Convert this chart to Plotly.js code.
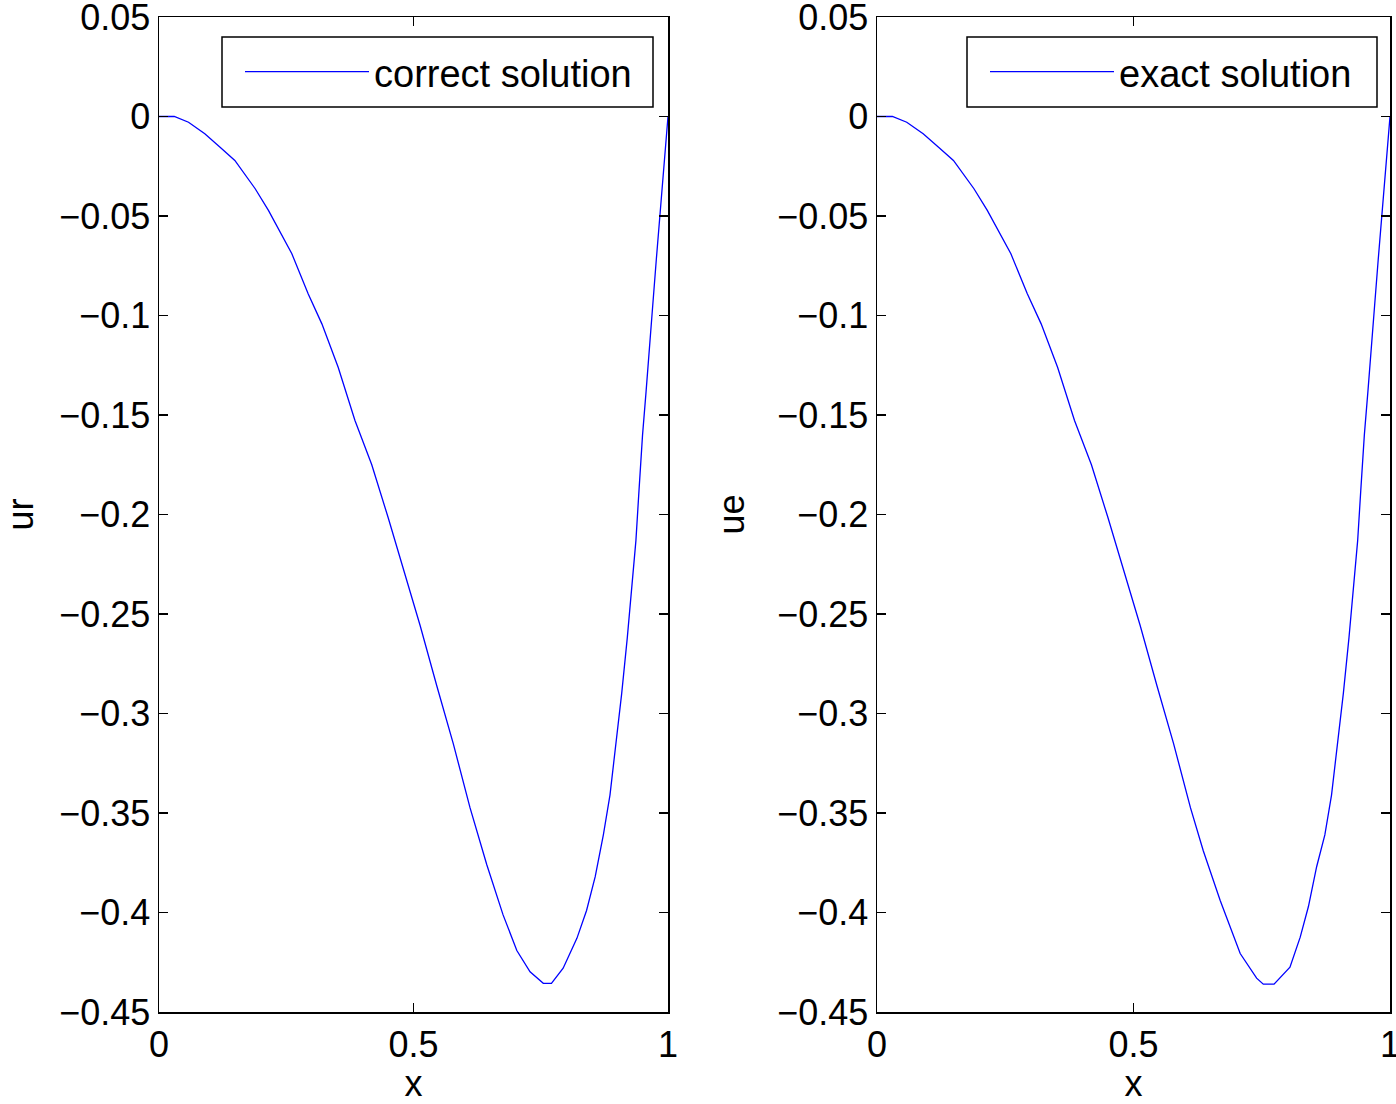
<!DOCTYPE html>
<html>
<head>
<meta charset="utf-8">
<script src="https://cdn.plot.ly/plotly-3.0.1.min.js"></script>
<style>html,body{margin:0;padding:0;background:#fff;}#plot{width:1396px;height:1104px;}</style>
</head>
<body>
<div id="plot"></div>
<script>
const xR = [0, 0.03, 0.058, 0.09, 0.12, 0.149, 0.189, 0.215, 0.261, 0.293, 0.32, 0.352, 0.385, 0.418, 0.45, 0.48, 0.513, 0.546, 0.578, 0.611, 0.644, 0.676, 0.703, 0.729, 0.755, 0.771, 0.794, 0.821, 0.84, 0.857, 0.873, 0.886, 0.899, 0.909, 0.92, 0.929, 0.937, 0.943, 0.95, 0.957, 0.964, 0.97, 0.977, 0.985, 0.993, 1.0];
const ur = [0, 0, -0.0029, -0.0087, -0.0154, -0.0221, -0.0363, -0.0472, -0.069, -0.0891, -0.1042, -0.126, -0.1528, -0.175, -0.2014, -0.2271, -0.2558, -0.2863, -0.315, -0.3473, -0.376, -0.4012, -0.4191, -0.4298, -0.4356, -0.4356, -0.428, -0.413, -0.399, -0.382, -0.361, -0.341, -0.312, -0.29, -0.262, -0.238, -0.213, -0.188, -0.16, -0.138, -0.117, -0.095, -0.072, -0.048, -0.02, 0];
const xE = [0, 0.03, 0.058, 0.09, 0.12, 0.149, 0.189, 0.215, 0.261, 0.293, 0.32, 0.352, 0.385, 0.418, 0.45, 0.48, 0.513, 0.546, 0.578, 0.611, 0.636, 0.669, 0.708, 0.74, 0.753, 0.774, 0.805, 0.825, 0.841, 0.857, 0.873, 0.886, 0.899, 0.909, 0.92, 0.929, 0.937, 0.943, 0.95, 0.957, 0.964, 0.97, 0.977, 0.985, 0.993, 1.0];
const ue = [0, 0, -0.0029, -0.0087, -0.0154, -0.0221, -0.0363, -0.0472, -0.069, -0.0891, -0.1042, -0.126, -0.1528, -0.175, -0.2014, -0.2271, -0.2558, -0.2863, -0.315, -0.3473, -0.369, -0.394, -0.4206, -0.433, -0.436, -0.436, -0.4275, -0.4124, -0.397, -0.377, -0.361, -0.341, -0.312, -0.29, -0.262, -0.238, -0.213, -0.188, -0.16, -0.138, -0.117, -0.095, -0.072, -0.048, -0.02, 0];
const yTicks = [0.05, 0, -0.05, -0.1, -0.15, -0.2, -0.25, -0.3, -0.35, -0.4, -0.45];
const yTickText = ['0.05', '0', '\u22120.05', '\u22120.1', '\u22120.15', '\u22120.2', '\u22120.25', '\u22120.3', '\u22120.35', '\u22120.4', '\u22120.45'];
const xTicks = [0, 0.5, 1];
const xTickText = ['0', '0.5', '1'];

const FONT = 'Liberation Sans, Arial, Helvetica, sans-serif';
const fs = 36;

const traces = [
  {x: xR, y: ur, type: 'scatter', mode: 'lines', name: 'correct solution',
   line: {color: '#0000ff', width: 1.3}, xaxis: 'x', yaxis: 'y', legend: 'legend'},
  {x: xE, y: ue, type: 'scatter', mode: 'lines', name: 'exact solution',
   line: {color: '#0000ff', width: 1.3}, xaxis: 'x2', yaxis: 'y2', legend: 'legend2'}
];

function xax(dom, anchor) {
  return {domain: dom, anchor: anchor, range: [-0.0000001, 1.0000001], tickvals: xTicks, ticktext: xTickText,
    ticks: 'inside', ticklen: 9, tickwidth: 1.3, tickcolor: '#000', mirror: 'ticks',
    showline: true, linecolor: '#000', linewidth: 1.5, showgrid: false, zeroline: false,
    ticklabeloverflow: 'allow',
    tickfont: {family: FONT, size: fs, color: '#000'},
    title: {text: 'x', font: {family: FONT, size: fs, color: '#000'}, standoff: 31}, automargin: false};
}
function yax(dom, anchor, label, so) {
  return {domain: dom, anchor: anchor, range: [-0.4500001, 0.0500001], tickvals: yTicks, ticktext: yTickText,
    ticks: 'inside', ticklen: 9, tickwidth: 1.3, tickcolor: '#000', mirror: 'ticks',
    showline: true, linecolor: '#000', linewidth: 1.5, showgrid: false, zeroline: false,
    ticklabeloverflow: 'allow',
    tickfont: {family: FONT, size: fs, color: '#000'},
    title: {text: label, font: {family: FONT, size: fs, color: '#000'}, standoff: so}, automargin: false};
}
const yd = [(1104 - 1012) / 1104, (1104 - 17) / 1104];
const legendFont = {family: FONT, size: 38, color: '#000'};
const layout = {
  width: 1396, height: 1104,
  margin: {l: 0, r: 0, t: 0, b: 0},
  paper_bgcolor: '#fff', plot_bgcolor: '#fff',
  showlegend: true,
  xaxis: xax([159 / 1396, 668 / 1396], 'y'),
  yaxis: yax(yd, 'x', 'ur', 40),
  xaxis2: xax([877 / 1396, 1390 / 1396], 'y2'),
  yaxis2: yax(yd, 'x2', 'ue', 21),
  legend: {x: 240 / 1396, y: (1104 - 72) / 1104, xanchor: 'left', yanchor: 'middle',
    borderwidth: 0, bgcolor: 'rgba(0,0,0,0)', itemwidth: 124, font: legendFont},
  legend2: {x: 985 / 1396, y: (1104 - 72) / 1104, xanchor: 'left', yanchor: 'middle',
    borderwidth: 0, bgcolor: 'rgba(0,0,0,0)', itemwidth: 124, font: legendFont},
  shapes: [
    {type: 'rect', xref: 'paper', yref: 'paper', x0: 222 / 1396, x1: 653 / 1396,
     y0: (1104 - 107) / 1104, y1: (1104 - 37) / 1104, line: {color: '#000', width: 1.5}, fillcolor: '#fff', layer: 'above'},
    {type: 'rect', xref: 'paper', yref: 'paper', x0: 967 / 1396, x1: 1377 / 1396,
     y0: (1104 - 107) / 1104, y1: (1104 - 37) / 1104, line: {color: '#000', width: 1.5}, fillcolor: '#fff', layer: 'above'}
  ]
};
Plotly.newPlot('plot', traces, layout, {displayModeBar: false, staticPlot: true});
</script>
</body>
</html>
